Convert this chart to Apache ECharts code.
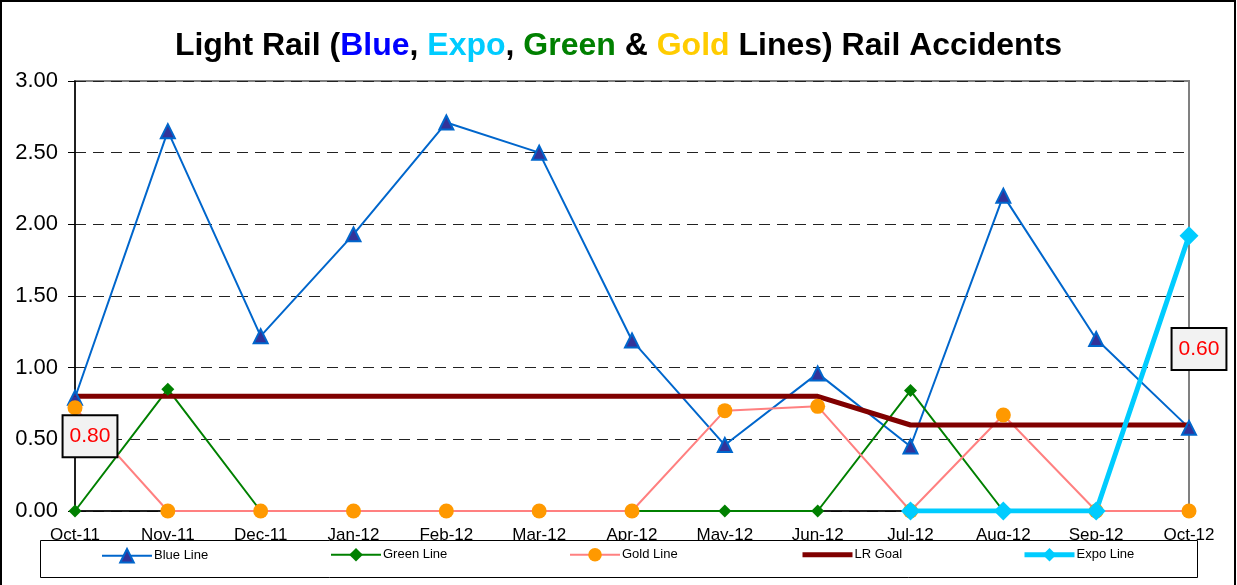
<!DOCTYPE html>
<html>
<head>
<meta charset="utf-8">
<script src="https://cdn.jsdelivr.net/npm/echarts@6/dist/echarts.min.js"></script>
<style>
html,body{margin:0;padding:0;background:#fff;}
#chart{width:1237px;height:585px;}
</style>
</head>
<body>
<div id="chart"></div>
<script>
const categories = ['Oct-11','Nov-11','Dec-11','Jan-12','Feb-12','Mar-12','Apr-12','May-12','Jun-12','Jul-12','Aug-12','Sep-12','Oct-12'];
const blueLine  = [0.79, 2.65, 1.22, 1.93, 2.71, 2.50, 1.19, 0.46, 0.96, 0.45, 2.20, 1.20, 0.58];
const greenLine = [0, 0.85, 0, 0, 0, 0, 0, 0, 0, 0.84, 0, 0, 0];
const goldLine  = [0.72, 0, 0, 0, 0, 0, 0, 0.70, 0.73, 0, 0.67, 0, 0];
const lrGoal    = [0.80, 0.80, 0.80, 0.80, 0.80, 0.80, 0.80, 0.80, 0.80, 0.60, 0.60, 0.60, 0.60];
const expoLine  = [null, null, null, null, null, null, null, null, null, 0, 0, 0, 1.92];
const goalLabelIdx = [0, 12];
const yTicks = { min: 0, max: 3, interval: 0.5 };

const FONT = 'Arial, "Liberation Sans", sans-serif';
const chart = echarts.init(document.getElementById('chart'));

const labelOffsets = { 0: [15, 40], 12: [10, -76] };
const goalLabelData = goalLabelIdx.map(i => ({
  value: [categories[i], lrGoal[i]],
  label: { offset: labelOffsets[i] }
}));

const legendLefts = [101, 330, 569, 800, 1022];
const names = ['Blue Line', 'Green Line', 'Gold Line', 'LR Goal', 'Expo Line'];
const legendLineW = [2, 2, 2, 5, 5];
const legends = names.map((n, i) => ({
  data: [n],
  left: legendLefts[i],
  top: 548,
  itemWidth: 50,
  itemHeight: 17,
  itemGap: 2,
  padding: 0,
  z: 20,
  lineStyle: { width: legendLineW[i] },
  itemStyle: n === 'LR Goal' ? { opacity: 0 } : {},
  textStyle: { fontFamily: FONT, fontSize: 13, color: '#000', padding: [0, 0, 0, -3] }
}));

chart.setOption({
  backgroundColor: '#fff',
  animation: false,
  title: {
    left: 'center',
    top: 25,
    text: '{k|Light Rail (}{b|Blue}{k|, }{e|Expo}{k|, }{g|Green}{k| & }{o|Gold}{k| Lines) Rail Accidents}',
    textStyle: {
      rich: {
        k: { color: '#000', fontWeight: 'bold', fontSize: 32, fontFamily: FONT },
        b: { color: '#0000ff', fontWeight: 'bold', fontSize: 32, fontFamily: FONT },
        e: { color: '#00ccff', fontWeight: 'bold', fontSize: 32, fontFamily: FONT },
        g: { color: '#008000', fontWeight: 'bold', fontSize: 32, fontFamily: FONT },
        o: { color: '#ffcc00', fontWeight: 'bold', fontSize: 32, fontFamily: FONT }
      }
    }
  },
  legend: legends,
  graphic: [
    { type: 'rect', z: 100, silent: true, shape: { x: 1, y: 1, width: 1234, height: 600 }, style: { fill: 'none', stroke: '#000', lineWidth: 2 } },
    { type: 'rect', z: 10, silent: true, shape: { x: 40.5, y: 540.5, width: 1157, height: 37 }, style: { fill: '#fff', stroke: '#000', lineWidth: 1 } }
  ],
  grid: {
    left: 75, right: 48, top: 81, bottom: 74,
    show: true, borderColor: '#808080', borderWidth: 2, backgroundColor: 'transparent'
  },
  xAxis: {
    type: 'category',
    data: categories,
    boundaryGap: false,
    axisLine: { lineStyle: { color: '#000', width: 1.5 } },
    axisTick: { show: false },
    axisLabel: { color: '#000', fontFamily: FONT, fontSize: 17, margin: 16, interval: 0 },
    splitLine: { show: false }
  },
  yAxis: {
    type: 'value',
    min: yTicks.min, max: yTicks.max, interval: yTicks.interval,
    axisLine: { show: true, lineStyle: { color: '#000', width: 1.5 } },
    axisTick: { show: true, length: 7, lineStyle: { color: '#000' } },
    axisLabel: { color: '#000', fontFamily: FONT, fontSize: 22, margin: 17, formatter: v => v.toFixed(2) },
    splitLine: { show: true, lineStyle: { color: '#222', type: [11, 7], width: 1 } }
  },
  series: [
    {
      name: 'Blue Line', type: 'line', data: blueLine,
      symbol: 'triangle', symbolSize: 14,
      lineStyle: { color: '#0066cc', width: 2 },
      itemStyle: { color: '#333399', borderColor: '#0066cc', borderWidth: 2 }
    },
    {
      name: 'Green Line', type: 'line', data: greenLine,
      symbol: 'diamond', symbolSize: 13,
      lineStyle: { color: '#008000', width: 2 },
      itemStyle: { color: '#008000' }
    },
    {
      name: 'Gold Line', type: 'line', data: goldLine,
      symbol: 'circle', symbolSize: 15,
      lineStyle: { color: '#ff8080', width: 2 },
      itemStyle: { color: '#ff9900' }
    },
    {
      name: 'LR Goal', type: 'line', data: lrGoal,
      symbol: 'none',
      lineStyle: { color: '#800000', width: 5 },
      itemStyle: { color: '#800000' }
    },
    {
      name: 'Expo Line', type: 'line', data: expoLine,
      symbol: 'diamond', symbolSize: 19,
      lineStyle: { color: '#00ccff', width: 5 },
      itemStyle: { color: '#00ccff' }
    },
    {
      name: 'goalLabels', type: 'scatter', data: goalLabelData,
      symbol: 'circle', symbolSize: 1, silent: true, z: 5,
      itemStyle: { color: '#800000', opacity: 1 },
      label: {
        show: true,
        position: 'inside',
        color: '#ff0000',
        fontFamily: FONT,
        fontSize: 21,
        backgroundColor: '#f2f2f2',
        borderColor: '#000',
        borderWidth: 2,
        padding: [10, 6, 9, 6],
        formatter: p => p.value[1].toFixed(2)
      }
    }
  ]
});
</script>
</body>
</html>
